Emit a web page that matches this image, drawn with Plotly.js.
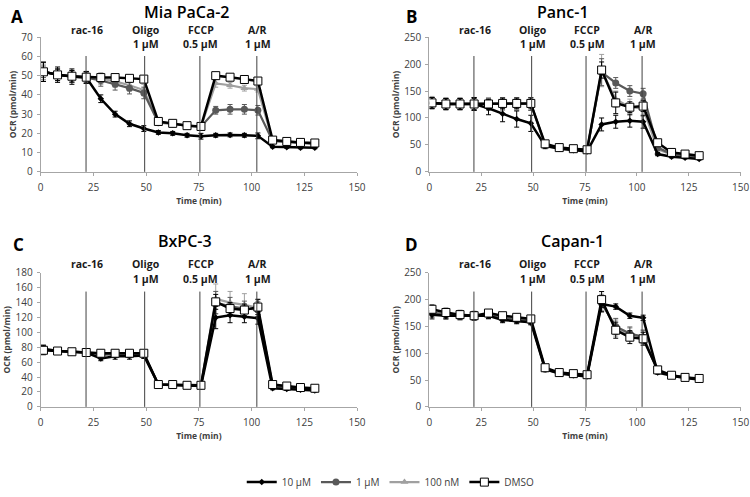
<!DOCTYPE html>
<html>
<head>
<meta charset="utf-8">
<script src="https://cdn.plot.ly/plotly-3.0.1.min.js"></script>
<style>html,body{margin:0;padding:0;background:#fff;}#chart{width:750px;height:497px;}</style>
</head>
<body>
<div id="chart"></div>
<script>
// Measurement times (min)
var time = [1.3, 8, 14.8, 21.6, 28.5, 35.3, 42.1, 48.9, 55.8, 62.6, 69.4, 76.0, 83.0, 89.8, 96.6, 103.0, 110.0, 116.7, 123.2, 130.0];
// Injection times and labels
var injTimes = [21.5, 49.3, 75.5, 102.5];
var injLine1 = ["rac-16", "Oligo", "FCCP", "A/R"];
var injLine2 = ["", "1 µM", "0.5 µM", "1 µM"];
var seriesNames = ["10 µM", "1 µM", "100 nM", "DMSO"];
var panelTitles = ["Mia PaCa-2", "Panc-1", "BxPC-3", "Capan-1"];
var panelLetters = ["A", "B", "C", "D"];

// Panel A: Mia PaCa-2
var A_10   = [52, 50.5, 49.5, 49, 38, 30, 25, 22.5, 20.5, 20, 19, 18.5, 19, 19.2, 19, 18.7, 13, 12.8, 12.5, 12.5];
var A_1    = [52, 50.5, 49.5, 49, 47.5, 45.5, 43.5, 41, 25.5, 25, 24, 23.5, 32, 32.5, 32.5, 32, 16, 15.5, 15, 14.5];
var A_100  = [52, 50.5, 49.5, 49, 48.5, 47, 45, 42.5, 25.8, 25.2, 24, 23.5, 46, 45, 43.5, 43, 16.2, 15.6, 15.1, 14.8];
var A_DMSO = [52, 50.4, 49.7, 49.2, 49, 49, 48.6, 48.2, 26.2, 25.2, 24, 23.6, 50, 49.2, 48, 47.2, 16.5, 15.8, 15.3, 15];
var A_10e   = [5, 4, 4, 3, 2, 1.5, 1.5, 1.5, 1, 1, 1, 1.5, 1, 1, 1, 1.5, 0.5, 0.5, 0.5, 0.5];
var A_1e    = [3, 3, 3, 3, 3, 3, 3, 3, 1, 1, 1, 1, 2, 2.5, 2.5, 2.5, 1, 0.5, 0.5, 0.5];
var A_100e  = [4, 3, 3, 3, 3, 3, 3, 3, 1, 1, 1, 1, 2, 1.5, 1.5, 1.5, 1, 0.5, 0.5, 0.5];
var A_DMSOe = [5, 3, 3, 3, 1, 1, 1, 1, 1, 1, 1, 1, 1, 1, 1, 1, 0.5, 0.5, 0.5, 0.5];

// Panel B: Panc-1
var B_10   = [128, 126, 126, 126, 118, 108, 98, 90, 48, 43, 40, 38, 88, 93, 95, 93, 33, 28, 26, 24];
var B_1    = [128, 126, 126, 126, 126, 127, 127, 126, 50, 45, 42, 40, 185, 165, 150, 145, 45, 33, 30, 28];
var B_100  = [128, 126, 126, 126, 126, 126, 126, 126, 50, 44, 42, 40, 188, 135, 120, 118, 42, 32, 30, 27];
var B_DMSO = [128, 126, 126, 126, 126, 127, 127, 127, 52, 45, 43, 41, 189, 128, 120, 122, 54, 36, 33, 30];
var B_10e   = [10, 10, 10, 12, 12, 15, 15, 15, 5, 3, 3, 3, 12, 12, 12, 12, 3, 2, 2, 2];
var B_1e    = [10, 10, 10, 12, 10, 10, 10, 12, 5, 3, 3, 3, 25, 10, 10, 10, 5, 3, 3, 3];
var B_100e  = [12, 12, 12, 12, 12, 12, 12, 12, 5, 3, 3, 3, 30, 15, 15, 15, 5, 3, 3, 3];
var B_DMSOe = [10, 10, 10, 10, 8, 10, 10, 10, 5, 3, 3, 3, 15, 20, 10, 10, 5, 3, 2, 2];

// Panel C: BxPC-3
var C_10   = [78, 75, 74, 73, 65, 68, 68, 69, 30, 29, 28, 28, 120, 123, 121, 119, 25, 24, 23, 22];
var C_1    = [77, 75, 74, 73, 70, 70, 70, 71, 30, 29, 29, 28, 140, 135, 132, 131, 28, 26, 25, 24];
var C_100  = [77, 75, 74, 73, 71, 71, 71, 71, 30, 30, 29, 29, 145, 140, 137, 133, 28, 27, 25, 24];
var C_DMSO = [76, 75, 74, 73, 72, 72, 72, 72, 30, 30, 29, 29, 141, 132, 130, 134, 30, 28, 26, 25];
var C_10e   = [5, 3, 3, 3, 3, 4, 4, 4, 2, 2, 2, 2, 15, 10, 8, 8, 2, 2, 2, 2];
var C_1e    = [4, 3, 3, 3, 3, 3, 3, 3, 2, 2, 2, 2, 15, 12, 10, 10, 2, 2, 2, 2];
var C_100e  = [5, 3, 3, 3, 3, 3, 3, 3, 2, 2, 2, 2, 20, 15, 15, 12, 2, 2, 2, 2];
var C_DMSOe = [6, 4, 3, 3, 3, 3, 3, 3, 2, 2, 2, 2, 10, 8, 8, 10, 2, 2, 2, 2];

// Panel D: Capan-1
var D_10   = [172, 170, 170, 170, 170, 162, 160, 158, 70, 62, 59, 57, 192, 187, 170, 166, 64, 58, 54, 51];
var D_1    = [175, 172, 170, 170, 172, 165, 162, 160, 70, 63, 60, 58, 193, 150, 137, 130, 67, 59, 55, 52];
var D_100  = [176, 173, 171, 170, 173, 167, 164, 162, 71, 63, 61, 59, 195, 147, 135, 132, 68, 59, 55, 52];
var D_DMSO = [182, 176, 172, 170, 175, 170, 167, 164, 73, 64, 62, 60, 200, 143, 130, 127, 69, 59, 55, 53];
var D_10e   = [8, 6, 6, 6, 5, 5, 5, 5, 3, 3, 3, 3, 15, 5, 5, 5, 3, 3, 3, 3];
var D_1e    = [8, 8, 8, 8, 8, 6, 6, 6, 3, 3, 3, 3, 15, 15, 12, 12, 3, 3, 3, 3];
var D_100e  = [8, 8, 8, 8, 8, 6, 6, 6, 3, 3, 3, 3, 15, 15, 12, 12, 3, 3, 3, 3];
var D_DMSOe = [8, 8, 8, 8, 6, 6, 6, 6, 3, 3, 3, 3, 15, 15, 12, 12, 3, 3, 3, 3];

var yRanges = [[0, 70], [0, 250], [0, 180], [0, 250]];
var yDticks = [10, 50, 20, 50];

var panels = [
  [A_10, A_1, A_100, A_DMSO], [B_10, B_1, B_100, B_DMSO],
  [C_10, C_1, C_100, C_DMSO], [D_10, D_1, D_100, D_DMSO]
];
var panelErrs = [
  [A_10e, A_1e, A_100e, A_DMSOe], [B_10e, B_1e, B_100e, B_DMSOe],
  [C_10e, C_1e, C_100e, C_DMSOe], [D_10e, D_1e, D_100e, D_DMSOe]
];

var styles = [
  {color: "#000000", width: 2.5, marker: {symbol: "diamond", size: 5, color: "#000000"}},
  {color: "#595959", width: 2.2, marker: {symbol: "circle", size: 7, color: "#595959"}},
  {color: "#a0a0a0", width: 2.2, marker: {symbol: "triangle-up", size: 7, color: "#a0a0a0"}},
  {color: "#000000", width: 2.5, marker: {symbol: "square", size: 8, color: "#ffffff", line: {color: "#000000", width: 1}}}
];
var drawOrder = [2, 1, 0, 3];

var traces = [];
for (var p = 0; p < 4; p++) {
  var ax = p === 0 ? "" : String(p + 1);
  drawOrder.forEach(function (s) {
    traces.push({
      type: "scatter", mode: "lines+markers",
      x: time, y: panels[p][s],
      name: seriesNames[s], legendrank: s + 1,
      showlegend: p === 0,
      xaxis: "x" + ax, yaxis: "y" + ax,
      line: {color: styles[s].color, width: styles[s].width},
      marker: styles[s].marker,
      error_y: {type: "data", array: panelErrs[p][s], visible: true, color: styles[s].color, thickness: 1, width: 2.5},
      hoverinfo: "x+y+name"
    });
  });
}

// domains from pixel measurements
var W = 750, H = 497;
var xDomL = [40.7 / W, 357 / W], xDomR = [429.3 / W, 740.7 / W];
var yDomT = [1 - 174.3 / H, 1 - 37.7 / H], yDomB = [1 - 412.7 / H, 1 - 276.7 / H];
var xDoms = [xDomL, xDomR, xDomL, xDomR];
var yDoms = [yDomT, yDomT, yDomB, yDomB];

var layout = {
  width: W, height: H,
  margin: {l: 0, r: 0, t: 0, b: 0},
  paper_bgcolor: "#ffffff", plot_bgcolor: "#ffffff",
  font: {family: "Open Sans, sans-serif", color: "#404040"},
  showlegend: true,
  legend: {orientation: "h", x: 0.521, xanchor: "center", y: 1 - 489 / H, yanchor: "middle",
           font: {size: 10, color: "#404040"}, traceorder: "normal", tracegroupgap: 0},
  shapes: [], annotations: []
};

var titleX = [186, 563, 185, 572];
var titleTop = [-1, -1, 232, 232];
var letterX = [17, 411, 18, 411];
var letterY = [17, 17, 248, 248];
var inj1Y = [30, 30, 267.7, 267.7];
var inj2Y = [44.3, 44.3, 282.7, 282.7];

for (var p = 0; p < 4; p++) {
  var ax = p === 0 ? "" : String(p + 1);
  layout["xaxis" + ax] = {
    domain: xDoms[p], anchor: "y" + ax, range: [0, 150], dtick: 25, tick0: 0,
    showline: true, linecolor: "#a6a6a6", linewidth: 1, ticks: "outside", ticklen: 3, tickcolor: "#a6a6a6",
    ticklabelstandoff: 3,
    showgrid: false, zeroline: false, tickfont: {size: 10, color: "#404040"},
    title: {text: "<b>Time (min)</b>", font: {size: 8.5, color: "#404040"}, standoff: 5}
  };
  layout["yaxis" + ax] = {
    domain: yDoms[p], anchor: "x" + ax, range: yRanges[p], dtick: yDticks[p], tick0: 0,
    showline: true, linecolor: "#a6a6a6", linewidth: 1, ticks: "outside", ticklen: 3, tickcolor: "#a6a6a6",
    ticklabelstandoff: 2,
    showgrid: false, zeroline: false, tickfont: {size: 10, color: "#404040"},
    title: {text: "<b>OCR (pmol/min)</b>", font: {size: 8.5, color: "#404040"}, standoff: 3}
  };
  injTimes.forEach(function (t, i) {
    layout.shapes.push({type: "line", xref: "x" + ax, yref: "y" + ax + " domain",
      x0: t, x1: t, y0: 0, y1: 0.86, line: {color: "#404040", width: 1}});
    layout.annotations.push({xref: "x" + ax, yref: "paper", x: t + 0.5, y: 1 - inj1Y[p] / H,
      text: "<b>" + injLine1[i] + "</b>", showarrow: false, xanchor: "center", yanchor: "middle",
      font: {size: 10.5, color: "#1a1a1a"}});
    if (injLine2[i]) {
      layout.annotations.push({xref: "x" + ax, yref: "paper", x: t + 0.5, y: 1 - inj2Y[p] / H,
        text: "<b>" + injLine2[i] + "</b>", showarrow: false, xanchor: "center", yanchor: "middle",
        font: {size: 10.5, color: "#1a1a1a"}});
    }
  });
  layout.annotations.push({xref: "paper", yref: "paper", x: titleX[p] / W, y: Math.min(1, 1 - titleTop[p] / H),
    text: panelTitles[p], showarrow: false, xanchor: "center", yanchor: "top", borderpad: 0,
    font: {size: 16, color: "#000000", weight: 600}});
  layout.annotations.push({xref: "paper", yref: "paper", x: letterX[p] / W, y: 1 - letterY[p] / H,
    text: "<b>" + panelLetters[p] + "</b>", showarrow: false, xanchor: "center", yanchor: "middle",
    font: {size: 17, color: "#000000"}});
}

Plotly.newPlot("chart", traces, layout, {displayModeBar: false, staticPlot: true});
</script>
</body>
</html>
